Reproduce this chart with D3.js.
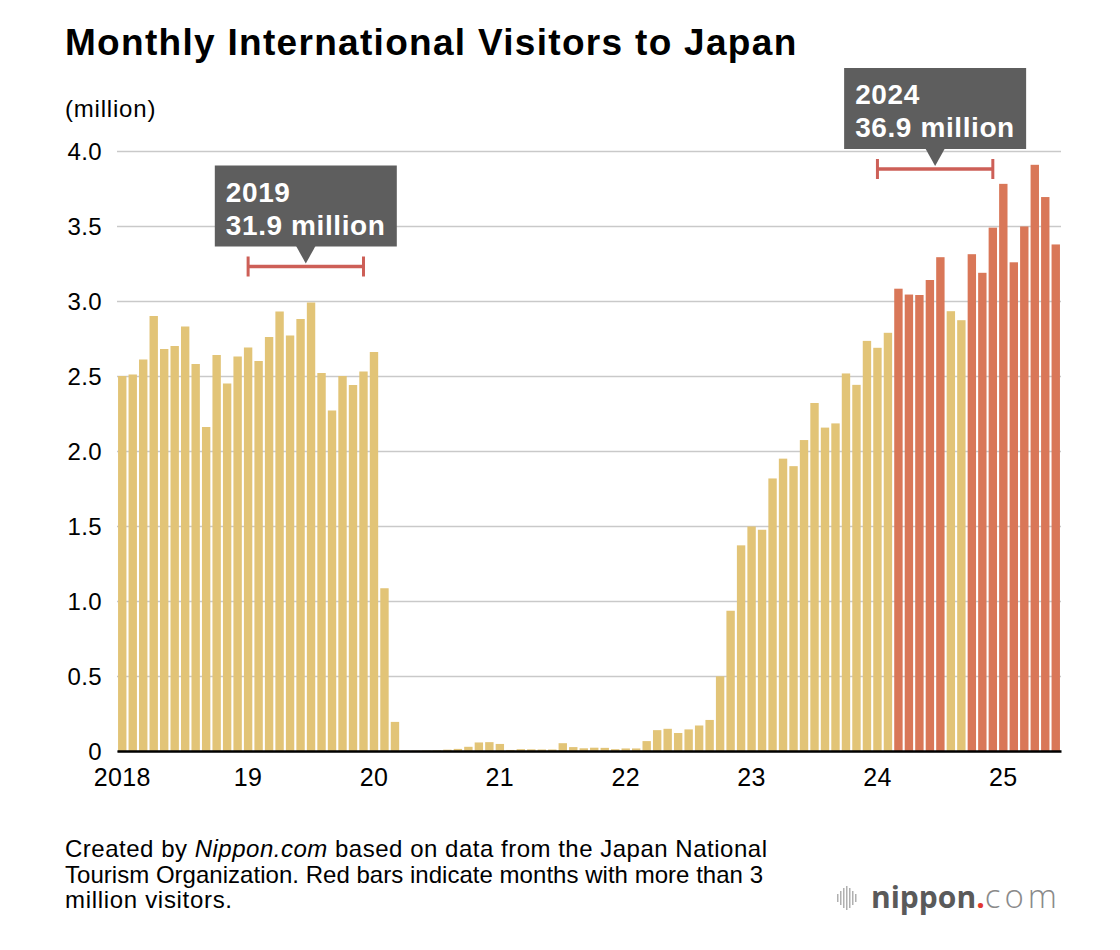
<!DOCTYPE html>
<html>
<head>
<meta charset="utf-8">
<script src="https://cdn.jsdelivr.net/npm/d3@7"></script>
<style>
  body { margin: 0; background: #fff; }
  svg { display: block; font-family: "Liberation Sans", Arial, Helvetica, sans-serif; }
</style>
</head>
<body>
<div id="chart"></div>
<script>
// monthly visitors, million (JNTO), Jan 2018 - Jun 2025
var years = ["2018", "2019", "2020", "2021", "2022", "2023", "2024", "2025"];
var yearLabels = ["2018", "19", "20", "21", "22", "23", "24", "25"];
var visitors = [
  2.50, 2.51, 2.61, 2.90, 2.68, 2.70, 2.83, 2.58, 2.16, 2.64, 2.45, 2.63,   // 2018
  2.69, 2.60, 2.76, 2.93, 2.77, 2.88, 2.99, 2.52, 2.27, 2.50, 2.44, 2.53,   // 2019
  2.66, 1.085, 0.194, 0.003, 0.002, 0.003, 0.004, 0.009, 0.014, 0.028, 0.057, 0.059, // 2020
  0.047, 0.007, 0.012, 0.011, 0.010, 0.010, 0.052, 0.026, 0.018, 0.022, 0.021, 0.012, // 2021
  0.017, 0.017, 0.066, 0.139, 0.148, 0.120, 0.144, 0.170, 0.207, 0.498, 0.935, 1.371, // 2022
  1.497, 1.475, 1.817, 1.949, 1.899, 2.073, 2.320, 2.156, 2.184, 2.517, 2.441, 2.734, // 2023
  2.688, 2.788, 3.082, 3.043, 3.040, 3.140, 3.292, 2.932, 2.872, 3.312, 3.188, 3.489, // 2024
  3.781, 3.258, 3.497, 3.908, 3.693, 3.377                                          // 2025
];
var yTicks = [0, 0.5, 1.0, 1.5, 2.0, 2.5, 3.0, 3.5, 4.0];
var calloutYears = ["2019", "2024"];
var calloutTotals = ["31.9 million", "36.9 million"];
var threshold = 3;

var months = visitors.map(function(v, i) {
  return years[Math.floor(i / 12)] + "-" + (i % 12 + 1);
});

var width = 1120, height = 950;
var svg = d3.select("#chart").append("svg")
    .attr("width", width)
    .attr("height", height);

var x = d3.scaleBand()
    .domain(months)
    .range([117, 1061])
    .paddingInner(0.2)
    .paddingOuter(0.1);

var y = d3.scaleLinear()
    .domain([0, 4])
    .range([751, 151]);

// title
svg.append("text")
    .attr("x", 65).attr("y", 55)
    .attr("font-size", 37).attr("font-weight", "bold")
    .attr("letter-spacing", 1.3)
    .attr("fill", "#000")
    .text("Monthly International Visitors to Japan");

svg.append("text")
    .attr("x", 65).attr("y", 117)
    .attr("font-size", 24)
    .attr("letter-spacing", 0.8)
    .attr("fill", "#000")
    .text("(million)");

// grid + y labels
var yAxis = svg.append("g")
    .attr("transform", "translate(1061,0)")
    .call(d3.axisLeft(y).tickValues(yTicks).tickSize(944)
      .tickFormat(function(d) { return d === 0 ? "0" : d3.format(".1f")(d); }));
yAxis.select(".domain").remove();
yAxis.selectAll(".tick line")
    .attr("stroke", "#c9c9c9")
    .attr("stroke-width", 1.6);
yAxis.selectAll(".tick text")
    .attr("x", -959)
    .attr("dy", "0.36em")
    .attr("font-size", 24)
    .attr("letter-spacing", 0.4)
    .attr("fill", "#000")
    .attr("font-family", "Liberation Sans, Arial, sans-serif");

// bars
svg.append("g")
  .selectAll("rect")
  .data(visitors)
  .enter().append("rect")
    .attr("x", function(d, i) { return x(months[i]); })
    .attr("y", function(d) { return y(d); })
    .attr("width", x.bandwidth())
    .attr("height", function(d) { return y(0) - y(d); })
    .attr("fill", function(d) { return d > threshold ? "#d97758" : "#e2c477"; });

// x axis
var xAxis = svg.append("g")
    .attr("transform", "translate(0," + y(0) + ")")
    .call(d3.axisBottom(x)
      .tickValues(years.map(function(yr) { return yr + "-1"; }))
      .tickSize(0)
      .tickFormat(function(d, i) { return yearLabels[i]; }));
xAxis.select(".domain")
    .attr("stroke", "#000")
    .attr("stroke-width", 2.5);
xAxis.selectAll(".tick text")
    .attr("y", 35)
    .attr("dy", 0)
    .attr("font-size", 25)
    .attr("letter-spacing", 0.4)
    .attr("fill", "#000")
    .attr("font-family", "Liberation Sans, Arial, sans-serif");

// callouts: bracket over the year + dark label box
var calloutLevel = [3.23, 3.88];
calloutYears.forEach(function(yr, k) {
  var x0 = x(yr + "-1") + x.bandwidth() / 2;
  var x1 = x(yr + "-12") + x.bandwidth() / 2;
  var yl = y(calloutLevel[k]);
  var cx = (x0 + x1) / 2;
  var g = svg.append("g");
  g.append("line").attr("x1", x0).attr("x2", x1).attr("y1", yl).attr("y2", yl)
      .attr("stroke", "#cd5f57").attr("stroke-width", 3.5);
  [x0, x1].forEach(function(xe) {
    g.append("line").attr("x1", xe).attr("x2", xe).attr("y1", yl - 10).attr("y2", yl + 10)
        .attr("stroke", "#cd5f57").attr("stroke-width", 3);
  });
  var bw = 182, bh = 81;
  var top = yl - 20 - bh;
  g.append("rect").attr("x", cx - bw / 2).attr("y", top)
      .attr("width", bw).attr("height", bh).attr("fill", "#5e5e5e");
  g.append("path")
      .attr("d", "M" + (cx - 10) + "," + (top + bh - 1) + "L" + (cx + 10) + "," + (top + bh - 1) +
                 "L" + cx + "," + (yl - 3) + "Z")
      .attr("fill", "#5e5e5e");
  g.append("text").attr("x", cx - bw / 2 + 11).attr("y", top + 36)
      .attr("font-size", 28).attr("font-weight", "bold").attr("letter-spacing", 0.6)
      .attr("fill", "#fff")
      .text(yr);
  g.append("text").attr("x", cx - bw / 2 + 11).attr("y", top + 69)
      .attr("font-size", 28).attr("font-weight", "bold").attr("letter-spacing", 0.6)
      .attr("fill", "#fff")
      .text(calloutTotals[k]);
});

// footnote
var note = svg.append("g")
    .attr("font-size", 24)
    .attr("fill", "#000");
var l1 = note.append("text").attr("x", 65).attr("y", 857)
    .attr("textLength", 702).attr("lengthAdjust", "spacing");
l1.append("tspan").text("Created by ");
l1.append("tspan").attr("font-style", "italic").text("Nippon.com");
l1.append("tspan").text(" based on data from the Japan National");
note.append("text").attr("x", 65).attr("y", 883)
    .attr("textLength", 698).attr("lengthAdjust", "spacing")
    .text("Tourism Organization. Red bars indicate months with more than 3");
note.append("text").attr("x", 65).attr("y", 908)
    .attr("textLength", 167).attr("lengthAdjust", "spacing")
    .text("million visitors.");

// logo
var logo = svg.append("g");
var waveH = [8, 14, 20, 24, 20, 14, 8];
waveH.forEach(function(h, i) {
  logo.append("rect")
      .attr("x", 837 + i * 3).attr("y", 898 - h / 2)
      .attr("width", 1.5).attr("height", h)
      .attr("fill", "#b0b0b0");
});
var lt = logo.append("text").attr("x", 871).attr("y", 908)
    .attr("font-family", "Open Sans, sans-serif");
lt.append("tspan").attr("font-size", 30).attr("font-weight", "bold").attr("fill", "#5a5a5a").text("nippon");
lt.append("tspan").attr("font-size", 30).attr("font-weight", "bold").attr("fill", "#e2382d").text(".");
lt.append("tspan").attr("font-size", 33).attr("font-weight", 300).attr("letter-spacing", 4)
    .attr("fill", "#8a8a8a").text("com");
</script>
</body>
</html>
